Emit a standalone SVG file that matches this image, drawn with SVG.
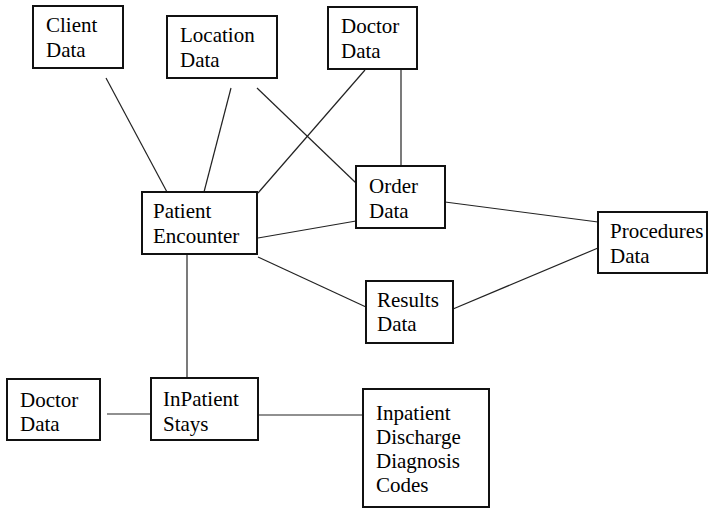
<svg xmlns="http://www.w3.org/2000/svg" width="708" height="510" viewBox="0 0 708 510">
  <rect width="708" height="510" fill="#fff"/>

  <!-- connectors -->
  <g id="connectors" stroke="#222" stroke-width="1.2" fill="none">
    <line x1="106" y1="78" x2="167" y2="192"/>
    <line x1="231" y1="88" x2="204" y2="192"/>
    <line x1="257" y1="88" x2="356" y2="183"/>
    <line x1="365" y1="70" x2="258" y2="193"/>
    <line x1="401" y1="69" x2="401" y2="166"/>
    <line x1="258" y1="238" x2="356" y2="221"/>
    <line x1="258" y1="257" x2="366" y2="307"/>
    <line x1="445" y1="202" x2="598" y2="222"/>
    <line x1="453" y1="309" x2="598" y2="248"/>
    <line x1="187" y1="254" x2="187" y2="378"/>
    <line x1="107" y1="414" x2="151" y2="414"/>
    <line x1="258" y1="415" x2="363" y2="415"/>
  </g>

  <g id="client-data">
    <rect x="33" y="6" width="90" height="62" fill="#fff" stroke="#111" stroke-width="2"/>
    <text x="46" y="32" style="font-family: 'Liberation Serif', serif; font-size: 21px">Client</text>
    <text x="46" y="57" style="font-family: 'Liberation Serif', serif; font-size: 21px">Data</text>
  </g>
  <g id="location-data">
    <rect x="167" y="16" width="110" height="62" fill="#fff" stroke="#111" stroke-width="2"/>
    <text x="180" y="42" style="font-family: 'Liberation Serif', serif; font-size: 21px">Location</text>
    <text x="180" y="67" style="font-family: 'Liberation Serif', serif; font-size: 21px">Data</text>
  </g>
  <g id="doctor-data-top">
    <rect x="328" y="7" width="89" height="62" fill="#fff" stroke="#111" stroke-width="2"/>
    <text x="341" y="33" style="font-family: 'Liberation Serif', serif; font-size: 21px">Doctor</text>
    <text x="341" y="58" style="font-family: 'Liberation Serif', serif; font-size: 21px">Data</text>
  </g>
  <g id="patient-encounter">
    <rect x="142" y="192" width="115" height="62" fill="#fff" stroke="#111" stroke-width="2"/>
    <text x="153" y="218" style="font-family: 'Liberation Serif', serif; font-size: 21px">Patient</text>
    <text x="153" y="243" style="font-family: 'Liberation Serif', serif; font-size: 21px">Encounter</text>
  </g>
  <g id="order-data">
    <rect x="356" y="166" width="89" height="62" fill="#fff" stroke="#111" stroke-width="2"/>
    <text x="369" y="193" style="font-family: 'Liberation Serif', serif; font-size: 21px">Order</text>
    <text x="369" y="218" style="font-family: 'Liberation Serif', serif; font-size: 21px">Data</text>
  </g>
  <g id="results-data">
    <rect x="366" y="281" width="87" height="62" fill="#fff" stroke="#111" stroke-width="2"/>
    <text x="377" y="307" style="font-family: 'Liberation Serif', serif; font-size: 21px">Results</text>
    <text x="377" y="331" style="font-family: 'Liberation Serif', serif; font-size: 21px">Data</text>
  </g>
  <g id="procedures-data">
    <rect x="598" y="212" width="109" height="61" fill="#fff" stroke="#111" stroke-width="2"/>
    <text x="610" y="238" style="font-family: 'Liberation Serif', serif; font-size: 21px">Procedures</text>
    <text x="610" y="263" style="font-family: 'Liberation Serif', serif; font-size: 21px">Data</text>
  </g>
  <g id="doctor-data-bottom">
    <rect x="7" y="379" width="93" height="61" fill="#fff" stroke="#111" stroke-width="2"/>
    <text x="20" y="407" style="font-family: 'Liberation Serif', serif; font-size: 21px">Doctor</text>
    <text x="20" y="431" style="font-family: 'Liberation Serif', serif; font-size: 21px">Data</text>
  </g>
  <g id="inpatient-stays">
    <rect x="151" y="378" width="107" height="62" fill="#fff" stroke="#111" stroke-width="2"/>
    <text x="163" y="406" style="font-family: 'Liberation Serif', serif; font-size: 21px">InPatient</text>
    <text x="163" y="431" style="font-family: 'Liberation Serif', serif; font-size: 21px">Stays</text>
  </g>
  <g id="discharge-codes">
    <rect x="363" y="389" width="126" height="118" fill="#fff" stroke="#111" stroke-width="2"/>
    <text x="376" y="420" style="font-family: 'Liberation Serif', serif; font-size: 21px">Inpatient</text>
    <text x="376" y="444" style="font-family: 'Liberation Serif', serif; font-size: 21px">Discharge</text>
    <text x="376" y="468" style="font-family: 'Liberation Serif', serif; font-size: 21px">Diagnosis</text>
    <text x="376" y="492" style="font-family: 'Liberation Serif', serif; font-size: 21px">Codes</text>
  </g>
</svg>
